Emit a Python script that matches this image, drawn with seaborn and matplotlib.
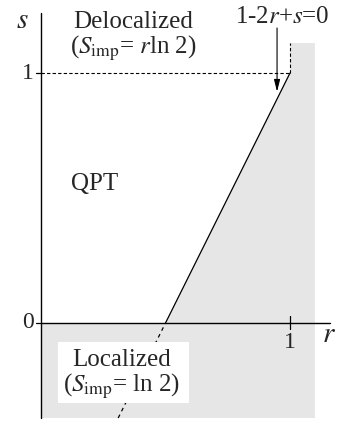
import matplotlib
matplotlib.use("Agg")
import matplotlib.pyplot as plt
import seaborn as sns
import pandas as pd

# data
boundary_r = [0.5, 1.0]          # solid QPT line 1-2r+s=0
boundary_s = [0.0, 1.0]
ext_r = [0.31, 0.5]              # dashed continuation below s=0
ext_s = [-0.38, 0.0]
gray_r = [0.0, 1.1, 1.1, 1.0, 1.0, 0.5, 0.0]
gray_s = [-0.38, -0.38, 1.12, 1.12, 1.0, 0.0, 0.0]
xticks = [1]
yticks = [0, 1]

sns.set_theme(style="white")
plt.rcParams["font.family"] = ["Liberation Serif", "DejaVu Serif"]
plt.rcParams["mathtext.fontset"] = "stix"

fig = plt.figure(figsize=(3.39, 4.24), dpi=100)
ax = fig.add_axes([0, 0, 1, 1])
ax.set_xlim(-41 / 249, 298 / 249)
ax.set_ylim(-101 / 250, 323 / 250)
ax.axis("off")

ax.fill(gray_r, gray_s, color="#e6e6e6", lw=0, zorder=0)

df = pd.DataFrame({"r": boundary_r, "s": boundary_s})
sns.lineplot(data=df, x="r", y="s", ax=ax, color="black", lw=0.9, zorder=3)
ax.plot(ext_r, ext_s, color="black", lw=0.9, ls=(0, (3, 3)), zorder=3)

# dashed guides
ax.plot([0, 1], [1, 1], color="black", lw=0.8, ls=(0, (3, 2)), zorder=2)
ax.plot([1, 1], [1, 1.12], color="black", lw=0.8, ls=(0, (3, 2)), zorder=2)

# axes
ax.plot([0, 0], [-0.38, 1.24], color="black", lw=1.0, zorder=4)
ax.plot([0, 1.16], [0, 0], color="black", lw=1.0, zorder=4)

fs = 18
for yt in yticks:
    ax.plot([-0.02, 0], [yt, yt], color="black", lw=0.9)
    ax.text(-0.03, yt, str(yt), ha="right", va="center", fontsize=fs - 1)
for xt in xticks:
    ax.plot([xt, xt], [-0.022, 0.028], color="black", lw=0.9)
    ax.text(xt, -0.035, str(xt), ha="center", va="top", fontsize=fs - 1)

ax.text(-0.075, 1.21, "$s$", ha="center", va="center", fontsize=21)
ax.text(1.155, -0.05, "$r$", ha="center", va="center", fontsize=21)

ax.text(0.37, 1.205, "Delocalized", ha="center", va="center", fontsize=fs)
ax.text(0.37, 1.1, r"($S_{\mathrm{imp}}$= $r$ln 2)", ha="center", va="center", fontsize=fs)
ax.text(0.215, 0.555, "QPT", ha="center", va="center", fontsize=fs)
ax.text(0.325, -0.15, "Localized", ha="center", va="center", fontsize=fs, zorder=5)
ax.text(0.325, -0.255, r"($S_{\mathrm{imp}}$= ln 2)", ha="center", va="center", fontsize=fs,
        zorder=5)
# white box behind localized label
ax.add_patch(plt.Rectangle((17 / 249, -80 / 250), 131 / 249, 61 / 250,
                           facecolor="white", edgecolor="none", zorder=4))

ax.text(0.97, 1.225, "1-2$r$+$s$=0", ha="center", va="center", fontsize=fs)
ax.annotate("", xy=(0.948, 0.925), xytext=(0.948, 1.18),
            arrowprops=dict(arrowstyle="-|>,head_length=0.6,head_width=0.15",
                            color="black", lw=0.8, shrinkA=0, shrinkB=0), zorder=6)

fig.savefig("out.png", dpi=100)
